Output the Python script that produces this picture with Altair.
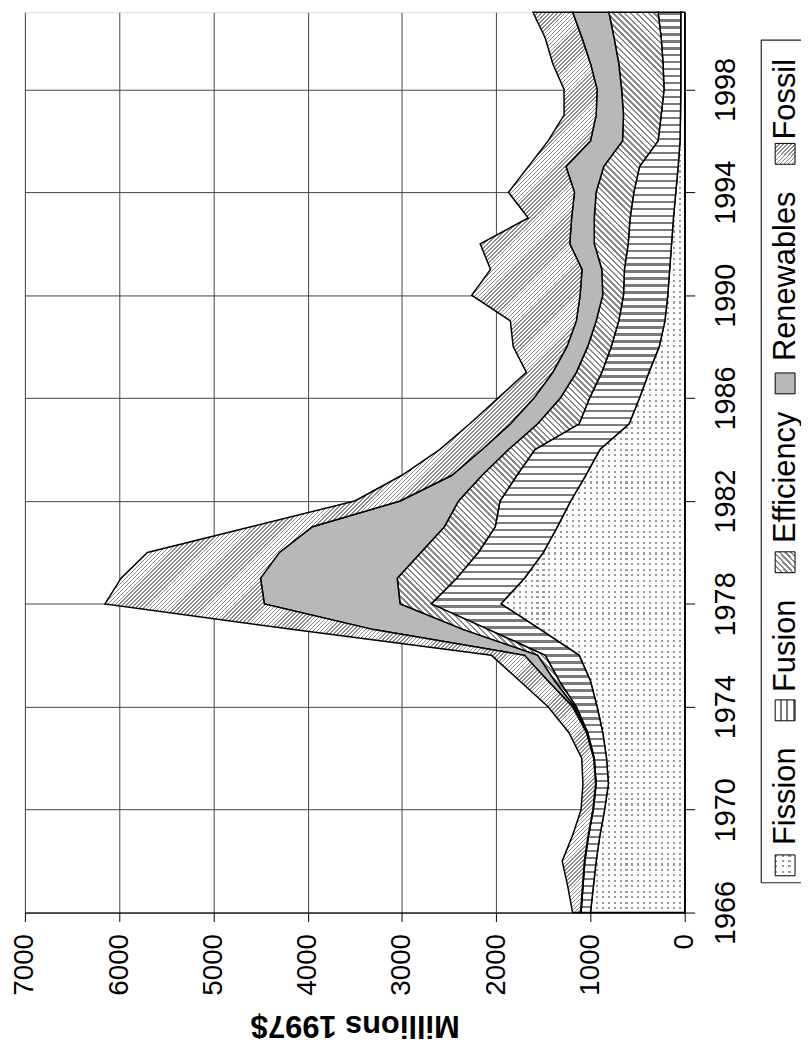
import altair as alt
import pandas as pd

# ---------------- data (millions 1997$) ----------------
years = list(range(1966, 2002))
fission = [1000, 970, 940, 900, 850, 810, 830, 870, 930, 1000, 1120, 1530, 1950, 1700, 1500, 1350,
           1210, 1050, 900, 590, 480, 380, 270, 210, 180, 160, 140, 120, 95, 70, 50, 45, 42, 42, 42, 42]
fusion = [100, 110, 120, 120, 120, 130, 130, 160, 220, 330, 360, 550, 740, 720, 690, 660,
          750, 730, 690, 530, 530, 500, 510, 490, 470, 480, 460, 460, 445, 410, 233, 205, 178, 188, 208, 241]
efficiency = [3, 3, 3, 3, 3, 3, 3, 8, 20, 50, 80, 270, 330, 630, 610, 540,
              440, 370, 280, 440, 310, 270, 250, 240, 220, 240, 360, 380, 400, 380, 377, 400, 450, 470, 500, 522]
renewables = [2, 2, 2, 2, 2, 2, 3, 5, 20, 70, 140, 950, 1440, 1450, 1500, 1400,
              620, 320, 280, 290, 280, 250, 220, 210, 240, 210, 260, 240, 230, 400, 340, 290, 260, 300, 340, 385]
fossil = [85, 155, 235, 165, 125, 135, 127, 187, 260, 300, 350, 850, 1690, 1480, 1400, 650,
          480, 530, 450, 430, 380, 280, 570, 700, 1150, 970, 950, 460, 700, 400, 450, 340, 350, 400, 390, 420]

series_names = ["Fission", "Fusion", "Efficiency", "Renewables", "Fossil"]
series_values = [fission, fusion, efficiency, renewables, fossil]
value_ticks = [0, 1000, 2000, 3000, 4000, 5000, 6000, 7000]
year_ticks = list(range(1966, 1999, 4))

rows = []
for i, yr in enumerate(years):
    for k, (name, vals) in enumerate(zip(series_names, series_values)):
        rows.append({"year": yr, "series": name, "order": k, "value": vals[i]})
df = pd.DataFrame(rows)

# ---------------- layout / style ----------------
FONT = "Liberation Sans"
PAD_L = 17
W, H = 681 - PAD_L, 906
XMAX = 7000
PX = W / XMAX


def stripe_grad(n, frac, dark, light, x1, y1, x2, y2):
    stops = []
    for i in range(n):
        a = round(i / n, 6)
        b = round((i + frac) / n, 6)
        c = round((i + 1) / n, 6)
        stops += [{"color": dark, "offset": a}, {"color": dark, "offset": b},
                  {"color": light, "offset": b}, {"color": light, "offset": c}]
    return {"gradient": "linear", "x1": x1, "y1": y1, "x2": x2, "y2": y2, "stops": stops}


def diag_grad(w, h, period, frac, dark, direction):
    s = (w * w + h * h) / (w + h)
    p, q = w / s, h / s
    n = max(1, round((w + h) / (2 ** 0.5) / period))
    if direction == "/":
        return stripe_grad(n, frac, dark, "white", 0, 0, p, q)
    return stripe_grad(n, frac, dark, "white", 0, 1, p, 1 - q)


# cumulative extents (for pattern sizing only)
cum = []
run = [0] * len(years)
for vals in series_values:
    lo = run[:]
    run = [r + v for r, v in zip(run, vals)]
    cum.append((min(lo), max(run)))
bw = [(hi - lo) * PX for lo, hi in cum]

TRANSP = "rgba(255,255,255,0)"
fill_fis_cols = stripe_grad(max(1, round(bw[0] / 6)), 0.35, "#9a9a9a", "white", 0, 0, 1, 0)
fill_fis_rows = stripe_grad(round(H / 5.5), 0.38, TRANSP, "white", 0, 0, 0, 1)
fill_fus = stripe_grad(round(H / 7), 0.34, "#7a7a7a", "white", 0, 0, 0, 1)
fill_eff = diag_grad(bw[2], H, 4.2, 0.42, "#8a8a8a", "\\")
fill_ren = "#b8b8b8"
fill_fos = diag_grad(bw[4], H, 2.8, 0.38, "#8c8c8c", "/")

xscale = alt.Scale(domain=[0, XMAX], reverse=True, nice=False, zero=True)
yscale = alt.Scale(domain=[1966, 2001], nice=False, zero=False)

GRID = "#444444"
xaxis = alt.Axis(values=value_ticks, format="d", title="Millions 1997$", labelAngle=270,
                 labelAlign="right", labelBaseline="middle", labelFontSize=28, labelFont=FONT,
                 labelColor="black", labelPadding=12, labelFlush=False, labelOverlap=False,
                 tickSize=9, tickColor="black", domainColor="black", grid=True, gridColor=GRID,
                 gridWidth=1, titleAngle=180, titleBaseline="alphabetic", titleAlign="center",
                 titleFont=FONT, titleFontSize=31, titleFontWeight="bold", titleColor="black",
                 titleX=W / 2, titleY=104)
yaxis = alt.Axis(values=year_ticks, orient="right", format="d", title=None, labelAngle=270,
                 labelAlign="center", labelBaseline="top", labelFontSize=29, labelFont=FONT,
                 labelColor="black", labelPadding=17, labelFlush=False, labelOverlap=False,
                 tickSize=10, tickColor="black", domainColor="black", grid=True,
                 gridColor=GRID, gridWidth=1)

base = alt.Chart(df).transform_stack(
    stack="value", groupby=["year"], as_=["v0", "v1"],
    sort=[alt.SortField("order", order="ascending")])


def area(name, fill, stroke=True):
    kw = dict(orient="horizontal", fill=fill)
    if stroke:
        kw.update(stroke="black", strokeWidth=1.5, strokeJoin="miter")
    else:
        kw.update(strokeWidth=0)
    return base.transform_filter(alt.datum.series == name).mark_area(**kw).encode(
        y=alt.Y("year:Q", scale=yscale, axis=yaxis),
        x=alt.X("v0:Q", scale=xscale, axis=xaxis),
        x2="v1:Q")


layers = [
    area("Fission", fill_fis_cols, stroke=False),
    area("Fission", fill_fis_rows),
    area("Fusion", fill_fus),
    area("Efficiency", fill_eff),
    area("Renewables", fill_ren),
    area("Fossil", fill_fos),
]

# ---------------- legend (rotated, drawn by hand) ----------------
one = pd.DataFrame({"a": [0]})
OX = PAD_L - 12     # shift because plot starts further right
LX0 = 746 - OX      # legend box left (plot coords)
LTOP, LBOT = 28, 876
layers += [
    alt.Chart(one).mark_rule(color="#222222", strokeWidth=1.2).encode(
        x=alt.value(LX0), y=alt.value(LTOP), y2=alt.value(LBOT)),
    alt.Chart(one).mark_rule(color="#222222", strokeWidth=1.2).encode(
        x=alt.value(LX0), x2=alt.value(800), y=alt.value(LTOP)),
    alt.Chart(one).mark_rule(color="#222222", strokeWidth=1.2).encode(
        x=alt.value(LX0), x2=alt.value(800), y=alt.value(LBOT)),
]

SW = 20
sw_fis_cols = stripe_grad(3, 0.35, "#9a9a9a", "white", 0, 0, 1, 0)
sw_fis_rows = stripe_grad(4, 0.38, TRANSP, "white", 0, 0, 0, 1)
sw_fus = stripe_grad(3, 0.34, "#7a7a7a", "white", 1, 0, 0, 0)
sw_eff = diag_grad(SW, SW, 4.2, 0.42, "#8a8a8a", "\\")
sw_fos = diag_grad(SW, SW, 2.8, 0.38, "#8c8c8c", "/")

legend_items = [
    # name, text start y, swatch top y, fills
    ("Fission", 838, 848, [sw_fis_cols, sw_fis_rows]),
    ("Fusion", 684, 692, [sw_fus]),
    ("Efficiency", 534, 543, [sw_eff]),
    ("Renewables", 351, 363, [fill_ren]),
    ("Fossil", 128, 132, [sw_fos]),
]
for name, ty, sy, fills in legend_items:
    for j, f in enumerate(fills):
        last = j == len(fills) - 1
        mk = dict(fill=f)
        if last:
            mk.update(stroke="black", strokeWidth=1)
        layers.append(alt.Chart(one).mark_rect(**mk).encode(
            x=alt.value(760 - OX), x2=alt.value(760 - OX + SW), y=alt.value(sy), y2=alt.value(sy + 21)))
    layers.append(alt.Chart(pd.DataFrame({"label": [name]})).mark_text(
        angle=270, align="left", baseline="alphabetic", fontSize=31, font=FONT, color="black").encode(
        text="label:N", x=alt.value(780 - OX), y=alt.value(ty)))

chart = alt.layer(*layers).properties(
    width=W, height=H,
    autosize=alt.AutoSizeParams(type="none"),
    padding={"left": PAD_L, "top": 1, "right": 117, "bottom": 129},
    background="white",
).configure_view(stroke="black", strokeWidth=1.5).configure(font=FONT)

chart.save("out.html", embed_options={"renderer": "svg", "actions": False})
